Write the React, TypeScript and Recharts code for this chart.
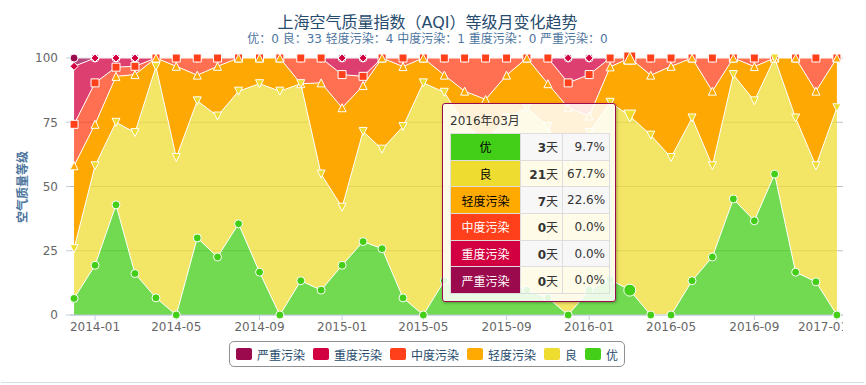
import { AreaChart, Area, XAxis, YAxis, CartesianGrid, Tooltip } from "recharts";

const months = [
  "2013-12",
  "2014-01", "2014-02", "2014-03", "2014-04", "2014-05", "2014-06",
  "2014-07", "2014-08", "2014-09", "2014-10", "2014-11", "2014-12",
  "2015-01", "2015-02", "2015-03", "2015-04", "2015-05", "2015-06",
  "2015-07", "2015-08", "2015-09", "2015-10", "2015-11", "2015-12",
  "2016-01", "2016-02", "2016-03", "2016-04", "2016-05", "2016-06",
  "2016-07", "2016-08", "2016-09", "2016-10", "2016-11", "2016-12",
  "2017-01",
];

// days per month for each AQI level
const excellentDays = [2, 6, 12, 5, 2, 0, 9, 7, 11, 5, 0, 4, 3, 6, 8, 8, 2, 0, 4, 3, 5, 4, 3, 2, 0, 3, 4, 3, 0, 0, 4, 7, 14, 11, 17, 5, 4, 0];
const goodDays = [6, 12, 9, 17, 27, 19, 16, 17, 16, 22, 27, 23, 14, 7, 12, 12, 20, 28, 22, 20, 16, 19, 22, 20, 18, 19, 20, 21, 21, 19, 19, 11, 15, 14, 14, 18, 14, 25];
const lightDays = [10, 5, 5, 7, 1, 11, 3, 6, 4, 3, 4, 0, 11, 12, 5, 11, 7, 3, 2, 4, 5, 5, 6, 5, 7, 2, 4, 7, 7, 11, 7, 9, 2, 4, 0, 7, 9, 6];
const moderateDays = [5, 5, 1, 1, 0, 1, 2, 1, 0, 0, 0, 3, 3, 4, 1, 0, 1, 0, 2, 4, 5, 2, 0, 3, 3, 5, 1, 0, 2, 1, 0, 4, 0, 1, 0, 0, 4, 0];
const heavyDays = [7, 3, 1, 1, 0, 0, 0, 0, 0, 0, 0, 0, 0, 2, 2, 0, 0, 0, 0, 0, 0, 0, 0, 0, 3, 2, 0, 0, 0, 0, 0, 0, 0, 0, 0, 0, 0, 0];
const severeDays = [1, 0, 0, 0, 0, 0, 0, 0, 0, 0, 0, 0, 0, 0, 0, 0, 0, 0, 0, 0, 0, 0, 0, 0, 0, 0, 0, 0, 0, 0, 0, 0, 0, 0, 0, 0, 0, 0];

const xTickMonths = ["2014-01", "2014-05", "2014-09", "2015-01", "2015-05", "2015-09", "2016-01", "2016-05", "2016-09", "2017-01"];
const yTicks = [0, 0.25, 0.5, 0.75, 1];
const hoverMonth = "2016-03";

const title = "上海空气质量指数（AQI）等级月变化趋势";
const subtitle = "优：0 良：33 轻度污染：4 中度污染：1 重度污染：0 严重污染：0";

const FONT = '"DejaVu Sans", "Noto Sans CJK SC", sans-serif';
const DAY = 86400000;

const toTs = (m: string) => Date.UTC(+m.slice(0, 4), +m.slice(5, 7) - 1, 1);
const fmtMonth = (t: number) => {
  const d = new Date(t);
  return `${d.getUTCFullYear()}-${String(d.getUTCMonth() + 1).padStart(2, "0")}`;
};

// drawn top of stack first, like the original
const series = [
  { key: "severe", name: "严重污染", color: "#9c0a4e", area: "#9c0a4e", opacity: 0.75, symbol: "circle", text: "#fff" },
  { key: "heavy", name: "重度污染", color: "#d20040", area: "#d20040", opacity: 0.75, symbol: "diamond", text: "#fff" },
  { key: "moderate", name: "中度污染", color: "#ff401a", area: "#ff401a", opacity: 0.75, symbol: "square", text: "#fff" },
  { key: "light", name: "轻度污染", color: "#ffaa00", area: "#fea803", opacity: 1, symbol: "triangle", text: "#000" },
  { key: "good", name: "良", color: "#efdc31", area: "#efdc31", opacity: 0.75, symbol: "triangle-down", text: "#000" },
  { key: "excellent", name: "优", color: "#43ce17", area: "#43ce17", opacity: 0.75, symbol: "circle", text: "#000" },
];

const data = months.map((m, i) => ({
  t: toTs(m),
  month: m,
  excellent: excellentDays[i],
  good: goodDays[i],
  light: lightDays[i],
  moderate: moderateDays[i],
  heavy: heavyDays[i],
  severe: severeDays[i],
}));

const hoverIndex = months.indexOf(hoverMonth);

const makeDot = (symbol: string, color: string) => (props: any) => {
  const { cx, cy, index, key } = props;
  if (cx == null || cy == null) return <g key={key} />;
  const r = index === hoverIndex ? 6 : 4;
  const x = cx - r, y = cy - r, w = 2 * r;
  const common = { fill: color, stroke: "#fff", strokeWidth: 1 };
  if (symbol === "circle") return <circle key={key} cx={cx} cy={cy} r={r} {...common} />;
  let d = "";
  if (symbol === "triangle") d = `M${cx},${y} L${x + w},${y + w} L${x},${y + w} Z`;
  else if (symbol === "triangle-down") d = `M${x},${y} L${x + w},${y} L${cx},${y + w} Z`;
  else if (symbol === "diamond") d = `M${cx},${y} L${x + w},${cy} L${cx},${y + w} L${x},${cy} Z`;
  else d = `M${x},${y} L${x + w},${y} L${x + w},${y + w} L${x},${y + w} Z`;
  return <path key={key} d={d} {...common} />;
};

const TipContent = ({ active, payload }: any) => {
  if (!active || !payload || !payload.length) return null;
  const row = payload[0].payload;
  const total = series.reduce((s, it) => s + (row as any)[it.key], 0);
  const label = `${row.month.slice(0, 4)}年${row.month.slice(5, 7)}月`;
  const rows = [...series].reverse();
  return (
    <div
      style={{
        width: 172,
        height: 197,
        border: "1px solid #9c0a4e",
        borderRadius: 3,
        background: "rgba(255,255,255,0.85)",
        boxShadow: "1px 1px 3px rgba(0,0,0,0.3)",
        fontFamily: FONT,
        fontSize: 12,
        color: "#333",
        boxSizing: "content-box",
        position: "relative",
      }}
    >
      <div style={{ position: "absolute", left: 7, top: 9, lineHeight: "16px" }}>{label}</div>
      <table
        style={{
          position: "absolute",
          left: 7,
          top: 29,
          borderCollapse: "collapse",
          fontSize: 12,
          tableLayout: "fixed",
          width: 159,
        }}
      >
        <colgroup>
          <col style={{ width: 70 }} />
          <col style={{ width: 42 }} />
          <col style={{ width: 47 }} />
        </colgroup>
        <tbody>
          {rows.map((it, i) => {
            const v = (row as any)[it.key];
            const bg = i % 2 === 0 ? "#f7f7f7" : "transparent";
            const cell = { border: "1px solid #ddd", height: 25.7, padding: "0 4px" };
            return (
              <tr key={it.key}>
                <td style={{ ...cell, background: it.color, color: it.text, textAlign: "center" }}>{it.name}</td>
                <td style={{ ...cell, background: bg, textAlign: "right" }}>
                  <b>{v}</b>天
                </td>
                <td style={{ ...cell, background: bg, textAlign: "right" }}>
                  {((v / total) * 100).toFixed(1)}%
                </td>
              </tr>
            );
          })}
        </tbody>
      </table>
    </div>
  );
};

export default function App() {
  return (
    <div style={{ position: "absolute", left: 0, top: 0, width: 866, height: 385, background: "#fff", fontFamily: FONT }}>
      <div style={{ position: "absolute", left: 0, top: 0, width: 843, height: 385, overflow: "hidden" }}>
        <AreaChart
          width={843}
          height={385}
          data={data}
          stackOffset="expand"
          reverseStackOrder
          margin={{ top: 58, right: 0, bottom: 40, left: 10 }}
        >
          <CartesianGrid horizontal vertical={false} stroke="#c0c0c0" />
          <XAxis
            dataKey="t"
            type="number"
            domain={[toTs(months[0]) - 6 * DAY, toTs(months[months.length - 1]) + 9 * DAY]}
            ticks={xTickMonths.map(toTs)}
            tickFormatter={fmtMonth}
            allowDataOverflow
            height={30}
            stroke="#c0d0e0"
            tickSize={5}
            tickMargin={2}
            tick={{ fill: "#666", fontSize: 12, fontFamily: FONT }}
          />
          <YAxis
            type="number"
            domain={[0, 1]}
            ticks={yTicks}
            tickFormatter={(v: number) => String(Math.round(v * 100))}
            width={60}
            axisLine={false}
            tickLine={{ stroke: "#c0d0e0" }}
            tickSize={4}
            tickMargin={8}
            tick={{ fill: "#666", fontSize: 12, fontFamily: FONT }}
          />
          {series.map((s) => (
            <Area
              key={s.key}
              dataKey={s.key}
              name={s.name}
              stackId="aqi"
              type="linear"
              stroke="#fff"
              strokeWidth={1}
              fill={s.area}
              fillOpacity={s.opacity}
              dot={makeDot(s.symbol, s.color)}
              activeDot={false}
              isAnimationActive={false}
            />
          ))}
          <Tooltip
            active
            defaultIndex={hoverIndex}
            content={<TipContent />}
            position={{ x: 442, y: 103 }}
            cursor={false}
            isAnimationActive={false}
            wrapperStyle={{ zIndex: 10, outline: "none" }}
          />
        </AreaChart>
      </div>

      {/* titles */}
      <div style={{ position: "absolute", left: 0, width: 855, top: 13, textAlign: "center", fontSize: 16, color: "#274b6d", lineHeight: "20px" }}>
        {title}
      </div>
      <div style={{ position: "absolute", left: 0, width: 855, top: 31, textAlign: "center", fontSize: 12, color: "#4d759e", lineHeight: "16px" }}>
        {subtitle}
      </div>
      <div
        style={{
          position: "absolute",
          left: 21,
          top: 187,
          transform: "translate(-50%, -50%) rotate(-90deg)",
          whiteSpace: "nowrap",
          fontSize: 12,
          fontWeight: "bold",
          color: "#4d759e",
        }}
      >
        空气质量等级
      </div>

      {/* legend */}
      <div
        style={{
          position: "absolute",
          left: 229,
          top: 341,
          width: 396,
          height: 26,
          border: "1px solid #909090",
          borderRadius: 5,
          boxSizing: "border-box",
          display: "flex",
          alignItems: "center",
          paddingLeft: 6,
        }}
      >
        {series.map((s) => (
          <div key={s.key} style={{ display: "flex", alignItems: "center", marginRight: 8 }}>
            <div style={{ width: 16, height: 12, borderRadius: 2, background: s.color }} />
            <span style={{ marginLeft: 5, fontSize: 12, color: "#274b6d", whiteSpace: "nowrap" }}>{s.name}</span>
          </div>
        ))}
      </div>

      <div style={{ position: "absolute", left: 1, top: 382, width: 863, height: 1, background: "#cfe3ee" }} />
    </div>
  );
}
